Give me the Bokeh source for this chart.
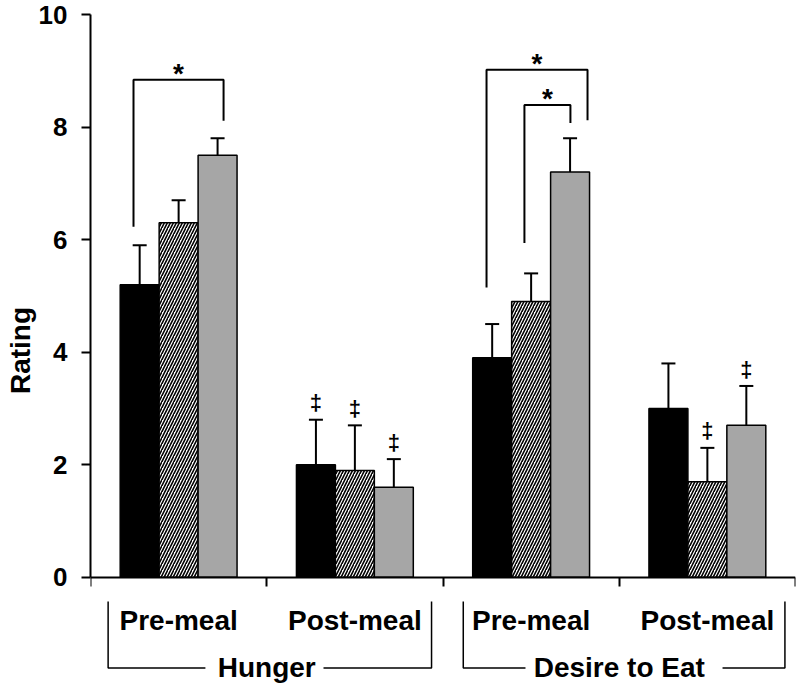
import numpy as np
from bokeh.plotting import figure
from bokeh.models import ColumnDataSource, Whisker, TeeHead, FixedTicker, Range1d
from bokeh.core.properties import value
from bokeh.embed import file_html
from bokeh.resources import INLINE

# ---------------- data ----------------
conditions = ["Pre-meal", "Post-meal", "Pre-meal", "Post-meal"]
measures = ["Hunger", "Desire to Eat"]
y_ticks = [0, 2, 4, 6, 8, 10]

black_vals = [5.2, 2.0, 3.9, 3.0]
black_err = [0.7, 0.8, 0.6, 0.8]
hatched_vals = [6.3, 1.9, 4.9, 1.7]
hatched_err = [0.4, 0.8, 0.5, 0.6]
gray_vals = [7.5, 1.6, 7.2, 2.7]
gray_err = [0.3, 0.5, 0.6, 0.7]

# double-dagger flags (series x condition)
black_dag = [False, True, False, False]
hatched_dag = [False, True, False, True]
gray_dag = [False, True, False, True]

# significance brackets
sig_x0 = [0.244, 2.247, 2.462]
sig_x1 = [0.755, 2.820, 2.723]
sig_top = [8.84, 9.02, 8.39]
sig_left_bottom = [6.23, 5.15, 5.94]
sig_right_bottom = [8.11, 8.12, 8.07]

# ---------------- figure ----------------
FONT = value("Liberation Sans")
p = figure(width=800, height=686, output_backend="svg", toolbar_location=None,
           x_range=Range1d(0, 4), y_range=Range1d(-1.94, 10),
           min_border_left=90, min_border_right=5, min_border_top=14, min_border_bottom=0)
p.grid.visible = False
p.outline_line_color = None
p.background_fill_color = "white"

centers = np.arange(len(conditions)) + 0.5
bw = 0.221
series = [
    (black_vals, black_err, black_dag, -bw, dict(fill_color="black", line_color="black")),
    (hatched_vals, hatched_err, hatched_dag, 0.0,
     dict(fill_color="white", line_color="black", hatch_pattern="/", hatch_color="black",
          hatch_scale=6, hatch_weight=1.6)),
    (gray_vals, gray_err, gray_dag, bw, dict(fill_color="#a6a6a6", line_color="black")),
]

for vals, errs, dags, off, style in series:
    xs = centers + off
    tops = np.array(vals)
    uppers = tops + np.array(errs)
    src = ColumnDataSource(dict(x=xs, top=tops, upper=uppers))
    w = Whisker(source=src, base="x", lower="top", upper="upper", line_width=2, line_color="black",
                upper_head=TeeHead(size=14, line_width=2, line_color="black"), lower_head=None)
    p.add_layout(w)
    p.vbar(x="x", top="top", bottom=0, width=bw, source=src, line_width=1.5, **style)
    dx = [x for x, d in zip(xs, dags) if d]
    dy = [u + 0.3 for u, d in zip(uppers, dags) if d]
    p.text(x=dx, y=dy, text=["‡"] * len(dx), text_font=FONT, text_font_style="bold",
           text_font_size="22px", text_align="center", text_baseline="middle", text_color="black")

# significance brackets
bx = [[a, a, b, b] for a, b in zip(sig_x0, sig_x1)]
by = [[l, t, t, r] for l, t, r in zip(sig_left_bottom, sig_top, sig_right_bottom)]
p.multi_line(xs=bx, ys=by, line_color="black", line_width=2)
p.text(x=[(a + b) / 2 for a, b in zip(sig_x0, sig_x1)], y=[t + 0.11 for t in sig_top],
       text=["*"] * len(sig_top), text_font=FONT, text_font_style="bold", text_font_size="28px",
       text_align="center", text_baseline="middle", text_color="black")

# category labels below the axis
p.text(x=centers, y=[-0.76] * len(centers), text=conditions, text_font=FONT, text_font_style="bold",
       text_font_size="28px", text_align="center", text_baseline="middle", text_color="black")

m_centers = [1.0, 3.0]
m_left = [0.100, 2.115]
m_right = [1.935, 3.940]
gap_l = [0.652, 2.468]
gap_r = [1.322, 3.586]
box_top, box_bottom = -0.43, -1.61
lx, ly = [], []
for a, b, g0, g1 in zip(m_left, m_right, gap_l, gap_r):
    lx += [[a, a, g0], [g1, b, b]]
    ly += [[box_top, box_bottom, box_bottom], [box_bottom, box_bottom, box_top]]
p.multi_line(xs=lx, ys=ly, line_color="black", line_width=1.5)
p.text(x=m_centers, y=[-1.61] * 2, text=measures, text_font=FONT, text_font_style="bold",
       text_font_size="28px", text_align="center", text_baseline="middle", text_color="black")

# axes
xa = p.xaxis[0]
xa.fixed_location = 0
xa.ticker = FixedTicker(ticks=[0, 1, 2, 3, 4])
xa.major_label_overrides = {0: "", 1: "", 2: "", 3: "", 4: ""}
xa.major_tick_out = 9
xa.major_tick_in = 0
xa.minor_tick_line_color = None
xa.axis_line_width = 2
xa.major_tick_line_width = 2
xa.axis_line_color = "black"
xa.major_tick_line_color = "black"

ya = p.yaxis[0]
ya.bounds = (0, 10)
ya.ticker = FixedTicker(ticks=y_ticks)
ya.major_label_text_font = "Liberation Sans"
ya.major_label_text_font_style = "bold"
ya.major_label_text_font_size = "26px"
ya.major_label_text_color = "black"
ya.major_label_standoff = 14
ya.major_tick_out = 9
ya.major_tick_in = 0
ya.minor_tick_line_color = None
ya.axis_line_width = 2
ya.major_tick_line_width = 2
ya.axis_line_color = "black"
ya.major_tick_line_color = "black"
ya.axis_label = "Rating"
ya.axis_label_text_font = "Liberation Sans"
ya.axis_label_text_font_style = "bold"
ya.axis_label_text_font_size = "28px"
ya.axis_label_text_color = "black"
ya.axis_label_standoff = 0

open("out.html", "w").write(file_html(p, INLINE))
